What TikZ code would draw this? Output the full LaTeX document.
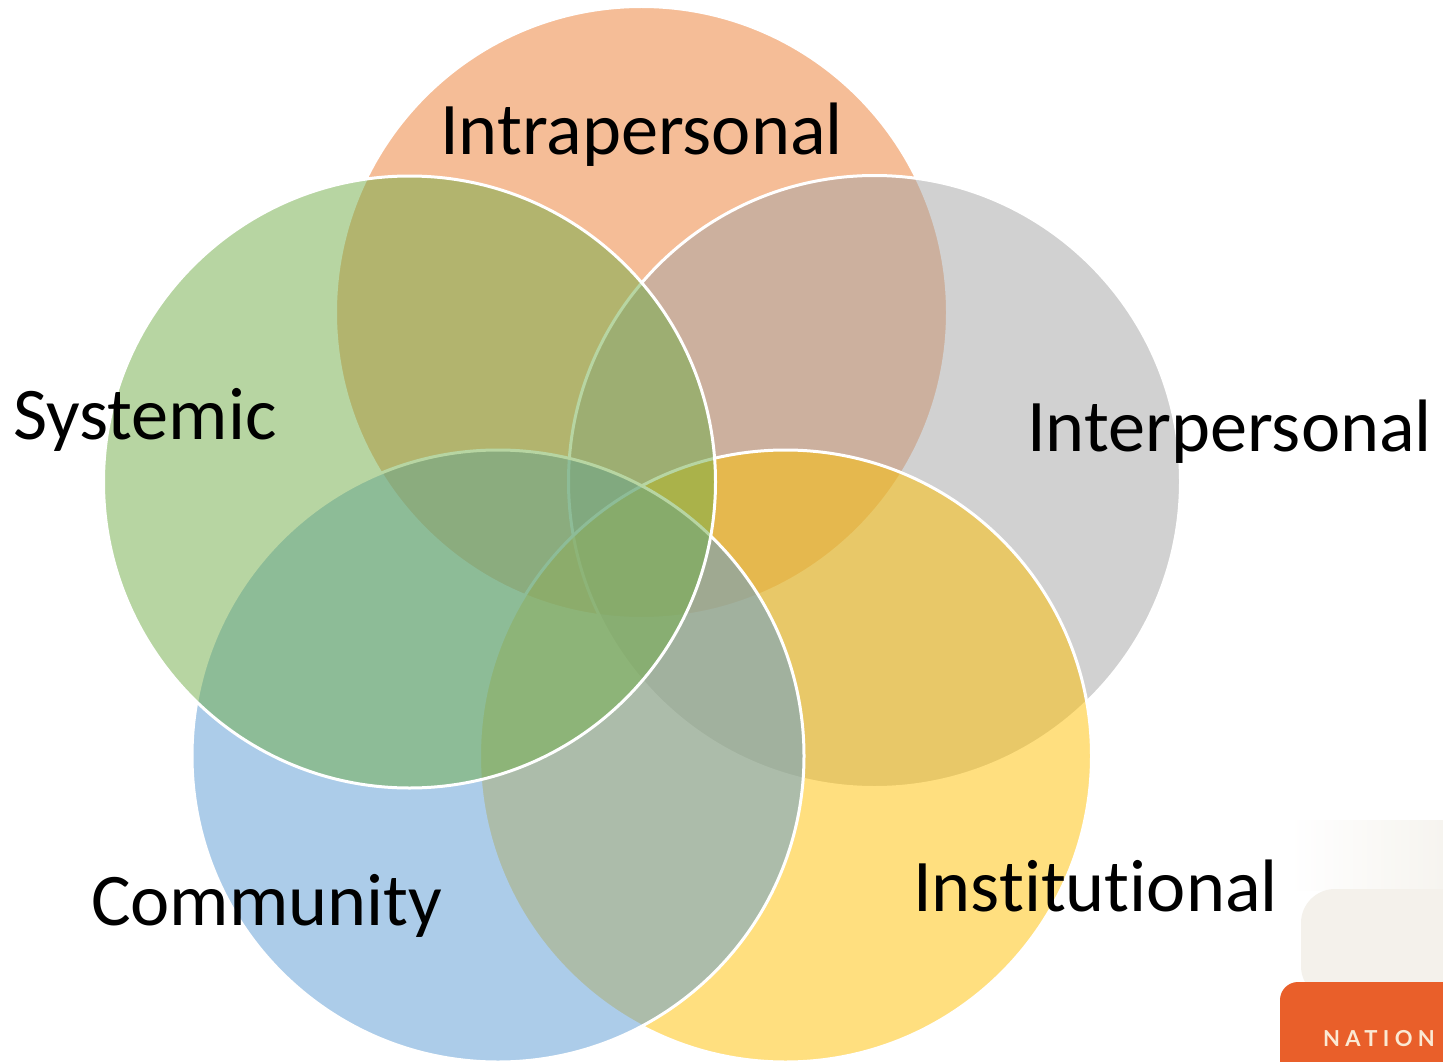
\documentclass[tikz,border=0pt]{standalone}
\usepackage{fontspec}
\setmainfont[Ligatures=NoCommon]{Carlito}
\newfontfamily\logofont[LetterSpace=24]{Lato Bold}
\definecolor{cintra}{HTML}{ED7D31}
\definecolor{cinter}{HTML}{A5A5A5}
\definecolor{cinst}{HTML}{FFC000}
\definecolor{ccomm}{HTML}{5B9BD5}
\definecolor{csys}{HTML}{70AD47}
\definecolor{logocream}{HTML}{F4F1EB}
\definecolor{logofade}{HTML}{F6F4EF}
\definecolor{logoorange}{HTML}{E95F2A}
\definecolor{logotext}{HTML}{FBE9D3}
\tikzset{
  x=1pt,y=-1pt,
  venn/.style={circle,minimum size=612pt,inner sep=0pt,line width=3pt,draw=white,fill opacity=0.5,draw opacity=1},
  lab/.style={anchor=base west,inner sep=0pt,font=\fontsize{74.3}{75}\selectfont,text=black}
}
\begin{document}
\begin{tikzpicture}
\useasboundingbox (0,0) rectangle (1443,1062);
\clip (0,0) rectangle (1443,1062);
\fill[white] (0,0) rectangle (1443,1062);
% logo
\shade[left color=white,right color=logofade] (1290,820) rectangle (1443,890);
\fill[logocream,rounded corners=34pt] (1301,889) rectangle (1500,1000);
\fill[logoorange,rounded corners=18pt] (1280,982) rectangle (1500,1100);
\node[anchor=base west,inner sep=0pt,text=logotext,font=\logofont\fontsize{22}{22}\selectfont] (logo) at (1323,1046) {NATION};
% circles
\node[venn,fill=cintra] (intra) at (641.5,312.5) {};
\node[venn,fill=cinter] (inter) at (874.5,481.5) {};
\node[venn,fill=cinst] (inst) at (785.5,756) {};
\node[venn,fill=ccomm] (comm) at (498,756) {};
\node[venn,fill=csys] (sys) at (409.5,482) {};
% labels
\node[lab] (tintra) at (440,154) {Intrapersonal};
\node[lab] (tsys) at (13,439) {Systemic};
\node[lab] (tinter) at (1027,451) {Interpersonal};
\node[lab] (tcomm) at (91,925) {Community};
\node[lab] (tinst) at (913,911) {Institutional};
\end{tikzpicture}
\end{document}
